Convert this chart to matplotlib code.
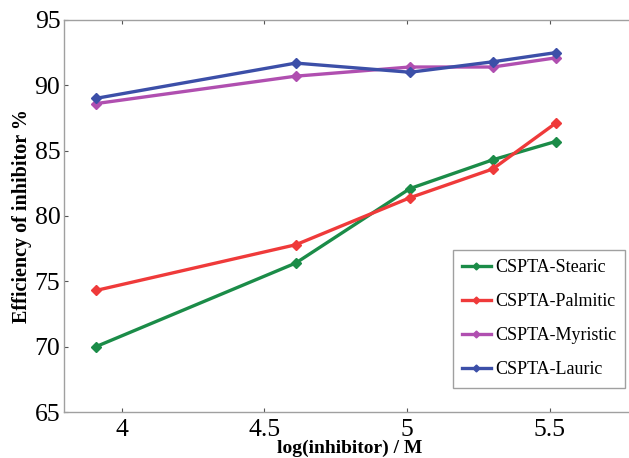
import matplotlib.pyplot as plt
from matplotlib.ticker import FixedLocator

# log of inhibitor concentration
log_conc = [3.91, 4.61, 5.01, 5.30, 5.52]

stearic = [70.0, 76.4, 82.1, 84.3, 85.7]
palmitic = [74.3, 77.8, 81.4, 83.6, 87.1]
myristic = [88.6, 90.7, 91.4, 91.4, 92.1]
lauric = [89.0, 91.7, 91.0, 91.8, 92.5]

series_names = ["CSPTA-Stearic", "CSPTA-Palmitic", "CSPTA-Myristic", "CSPTA-Lauric"]
series_colors = ["#1b8c48", "#ef3a3a", "#b04fb0", "#3c4fa8"]

x_ticks = [4, 4.5, 5, 5.5]
x_tick_labels = ["4", "4.5", "5", "5.5"]
y_ticks = [65, 70, 75, 80, 85, 90, 95]

plt.rcParams['font.family'] = ['Liberation Serif', 'DejaVu Serif']

fig = plt.figure(figsize=(6.29, 4.58), dpi=100)
# the original picture is cut on the right, so the axes run past the edge
ax = fig.add_axes([0.1025, 0.1004, 0.908, 0.856])

for vals, name, col in zip([stearic, palmitic, myristic, lauric],
                           series_names, series_colors):
    ax.plot(log_conc, vals, color=col, lw=2.4, marker='D', ms=5,
            mec=col, mfc=col, label=name)

ax.set_xlim(3.8, 5.8)
ax.set_ylim(65, 95)
ax.xaxis.set_major_locator(FixedLocator(x_ticks))
ax.set_xticklabels(x_tick_labels)
ax.set_yticks(y_ticks)
ax.tick_params(axis='both', direction='in', length=3, width=0.8,
               color='#555555', labelsize=18.5, top=True, right=True)
ax.tick_params(axis='x', pad=5)
ax.tick_params(axis='y', pad=3)
for sp in ax.spines.values():
    sp.set_color('#a0a0a0')
    sp.set_linewidth(1.0)

ax.set_xlabel("log(inhibitor) / M", fontsize=14, fontweight='bold',
              labelpad=-1)
ax.set_ylabel("Efficiency of inhibitor %", fontsize=14.5, fontweight='bold',
              labelpad=2)

leg = ax.legend(loc='upper left', bbox_to_anchor=(453 / 629, 1 - 250 / 458),
                bbox_transform=fig.transFigure, fontsize=13, fancybox=False,
                handlelength=1.6, handletextpad=0.22, labelspacing=0.95,
                borderpad=0.5, borderaxespad=0, framealpha=1,
                markerscale=0.7)
leg.get_frame().set_edgecolor('#a0a0a0')
leg.get_frame().set_linewidth(1.0)

fig.savefig("out.png", dpi=100)
